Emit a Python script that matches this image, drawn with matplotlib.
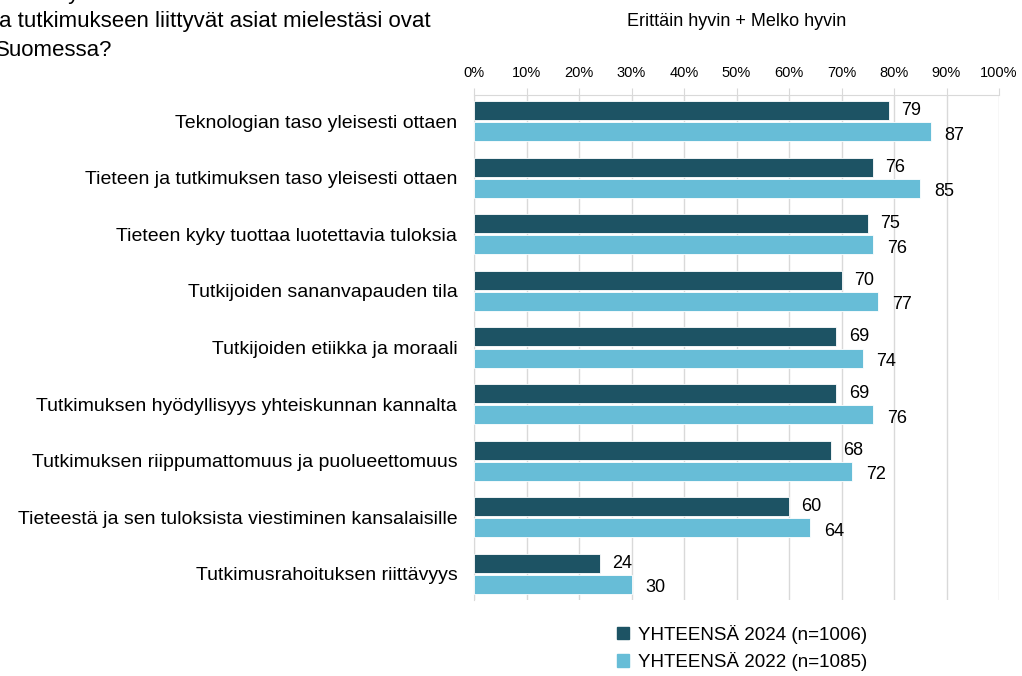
import numpy as np
import matplotlib.pyplot as plt
from matplotlib.patches import Patch

plt.rcParams['font.family'] = ['Liberation Sans', 'DejaVu Sans']

categories = [
    "Teknologian taso yleisesti ottaen",
    "Tieteen ja tutkimuksen taso yleisesti ottaen",
    "Tieteen kyky tuottaa luotettavia tuloksia",
    "Tutkijoiden sananvapauden tila",
    "Tutkijoiden etiikka ja moraali",
    "Tutkimuksen hyödyllisyys yhteiskunnan kannalta",
    "Tutkimuksen riippumattomuus ja puolueettomuus",
    "Tieteestä ja sen tuloksista viestiminen kansalaisille",
    "Tutkimusrahoituksen riittävyys",
]
values_2024 = [79, 76, 75, 70, 69, 69, 68, 60, 24]
values_2022 = [87, 85, 76, 77, 74, 76, 72, 64, 30]
series_labels = ["YHTEENSÄ 2024 (n=1006)", "YHTEENSÄ 2022 (n=1085)"]
ticks = list(range(0, 101, 10))

DARK = "#1d5364"
LIGHT = "#67bdd7"
GRID = "#d9d9d9"

W, H = 1022, 676
fig = plt.figure(figsize=(W / 100, H / 100), dpi=100)
ax = fig.add_axes([474 / W, 1 - 600 / H, 525 / W, 505 / H])

y = np.arange(len(categories))
h = 0.335
off = 0.186
ax.barh(y - off, values_2024, height=h, color=DARK, edgecolor="white", linewidth=0.6, zorder=3)
ax.barh(y + off, values_2022, height=h, color=LIGHT, edgecolor="white", linewidth=0.6, zorder=3)

for yi, v in zip(y, values_2024):
    ax.annotate(str(v), (v, yi - off), xytext=(9, 0), textcoords="offset points",
                va="center", ha="left", fontsize=13)
for yi, v in zip(y, values_2022):
    ax.annotate(str(v), (v, yi + off), xytext=(10, -2.5), textcoords="offset points",
                va="center", ha="left", fontsize=13)

ax.set_xlim(0, 100)
ax.set_ylim(8.46, -0.46)
ax.set_xticks(ticks)
ax.set_xticklabels([f"{t}%" for t in ticks], fontsize=10.5)
ax.xaxis.tick_top()
ax.tick_params(axis="x", length=5, color=GRID, pad=6)
ax.set_yticks(y)
ax.set_yticklabels(categories, fontsize=14)
ax.tick_params(axis="y", length=0, pad=12)
ax.grid(axis="x", color=GRID, linewidth=1, zorder=0)
for side in ["right", "bottom"]:
    ax.spines[side].set_visible(False)
for side in ["top", "left"]:
    ax.spines[side].set_color(GRID)

fig.text(736.5 / W, 1 - 22 / H, "Erittäin hyvin + Melko hyvin", fontsize=13,
         ha="center", va="center")

title_lines = [
    "Miten hyvin tieteeseen",
    "ja tutkimukseen liittyvät asiat mielestäsi ovat",
    "Suomessa?",
]
for i, line in enumerate(title_lines):
    fig.text(-5 / W, 1 - (-7 + 28.5 * i) / H, line, fontsize=16, ha="left", va="center")

handles = [Patch(color=DARK), Patch(color=LIGHT)]
fig.legend(handles, series_labels, loc="center", bbox_to_anchor=(742 / W, 1 - 648 / H),
           ncol=1, frameon=False, fontsize=13.5, handlelength=0.65, handleheight=0.65,
           handletextpad=0.5, labelspacing=0.45)

fig.savefig("out.png", dpi=100)
